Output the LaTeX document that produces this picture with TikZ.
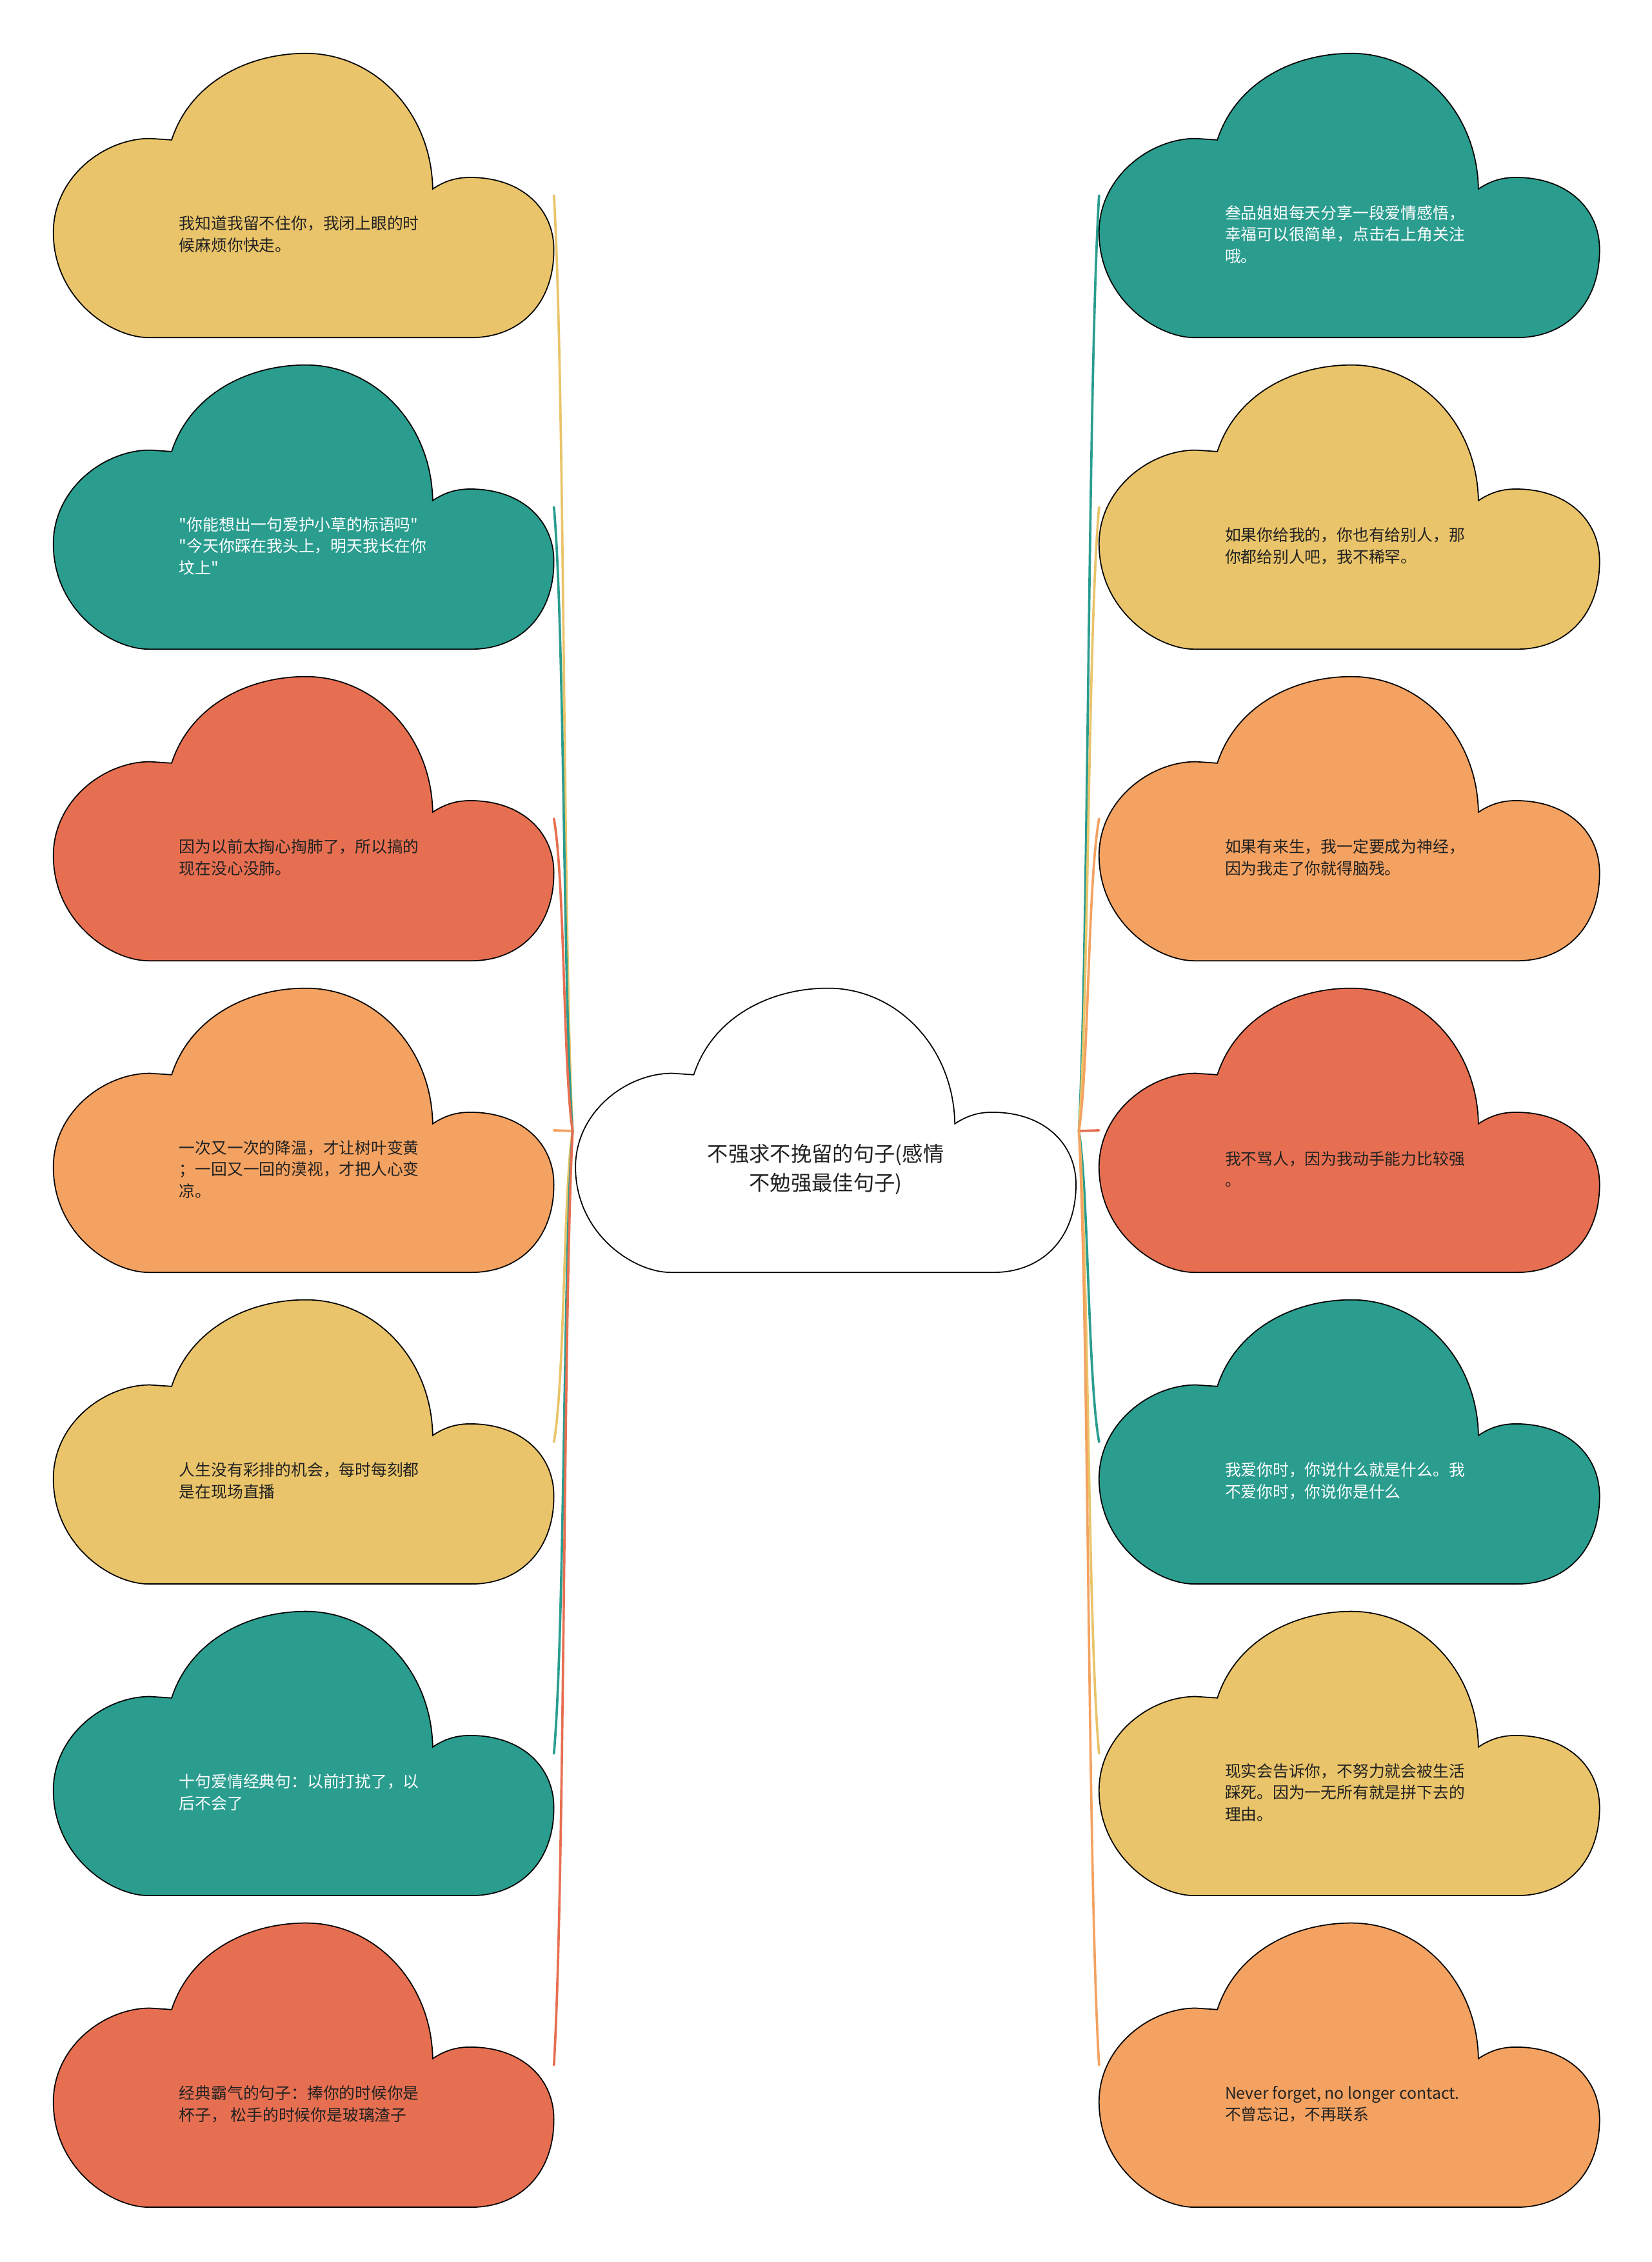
\documentclass[tikz,border=0pt]{standalone}
\usepackage{fontspec}
\newfontfamily\cjkfont{Noto Sans CJK SC}
\usetikzlibrary{calc}
\definecolor{cyel}{HTML}{E9C46A}
\definecolor{cteal}{HTML}{2A9D8F}
\definecolor{cred}{HTML}{E76F51}
\definecolor{corange}{HTML}{F4A261}
\definecolor{cdark}{HTML}{222222}
\tikzset{
  cloudpic/.pic={
    \path[pic actions] (82,60) .. controls (95,20) and (135,0) .. (175,0)
      .. controls (222,0) and (262,40) .. (263,94)
      .. controls (272,88) and (280,86) .. (289,86)
      .. controls (325,86) and (347,108) .. (347,136)
      .. controls (347,175) and (322,197) .. (290,197)
      -- (66,197)
      .. controls (40,197) and (0,170) .. (0,124)
      .. controls (0,86) and (35,59) .. (67,59)
      -- cycle;
  },
  cbox/.style={minimum width=7.758cm, minimum height=4.4045cm, inner sep=0pt, outer sep=0pt, draw=none, anchor=north west},
  cloudline/.style={draw=black, line width=0.5pt},
  ctext/.style={anchor=west, align=left, inner sep=0pt, font=\cjkfont\fontsize{7.05pt}{9.55pt}\selectfont, text=cdark},
  wtext/.style={ctext, text=white},
  conn/.style={line width=1.05pt, line cap=round},
}
\newcommand\lconn[2]{\draw[conn,#2] (#1.east) .. controls ($(#1.east)!0.2!(rL)+(5,0)$) and ($(#1.east)!0.8!(rL)+(-4,0)$) .. (rL);}
\newcommand\rconn[2]{\draw[conn,#2] (#1.west) .. controls ($(#1.west)!0.2!(rR)+(-5,0)$) and ($(#1.west)!0.8!(rR)+(4,0)$) .. (rR);}
\begin{document}
\begin{tikzpicture}[x=0.022358cm,y=-0.022358cm]
\useasboundingbox (0,0) rectangle (1145,1568);
\fill[white] (0,0) rectangle (1145,1568);

% center
\node[cbox] (c) at (399,685) {};
\pic[fill=white, cloudline] at (c.north west) {cloudpic};
\node[align=center, inner sep=0pt, font=\cjkfont\fontsize{9.2pt}{12.7pt}\selectfont, text=cdark] (ct) at ($(c.north west)+(173.5,125.5)$) {不强求不挽留的句子(感情\\不勉强最佳句子)};
\coordinate (rL) at (397,784);
\coordinate (rR) at (748,784);

% left clouds
\node[cbox] (l1) at (37,37) {};
\node[cbox] (l2) at (37,253) {};
\node[cbox] (l3) at (37,469) {};
\node[cbox] (l4) at (37,685) {};
\node[cbox] (l5) at (37,901) {};
\node[cbox] (l6) at (37,1117) {};
\node[cbox] (l7) at (37,1333) {};
\pic[fill=cyel, cloudline] at (l1.north west) {cloudpic};
\pic[fill=cteal, cloudline] at (l2.north west) {cloudpic};
\pic[fill=cred, cloudline] at (l3.north west) {cloudpic};
\pic[fill=corange, cloudline] at (l4.north west) {cloudpic};
\pic[fill=cyel, cloudline] at (l5.north west) {cloudpic};
\pic[fill=cteal, cloudline] at (l6.north west) {cloudpic};
\pic[fill=cred, cloudline] at (l7.north west) {cloudpic};
\node[ctext] (l1t) at ($(l1.north west)+(87,125.5)$) {我知道我留不住你，我闭上眼的时\\候麻烦你快走。};
\node[wtext] (l2t) at ($(l2.north west)+(87,125.5)$) {"你能想出一句爱护小草的标语吗"\\"今天你踩在我头上，明天我长在你\\坟上"};
\node[ctext] (l3t) at ($(l3.north west)+(87,125.5)$) {因为以前太掏心掏肺了，所以搞的\\现在没心没肺。};
\node[ctext] (l4t) at ($(l4.north west)+(87,125.5)$) {一次又一次的降温，才让树叶变黄\\；一回又一回的漠视，才把人心变\\凉。};
\node[ctext] (l5t) at ($(l5.north west)+(87,125.5)$) {人生没有彩排的机会，每时每刻都\\是在现场直播};
\node[wtext] (l6t) at ($(l6.north west)+(87,125.5)$) {十句爱情经典句：以前打扰了，以\\后不会了};
\node[ctext] (l7t) at ($(l7.north west)+(87,125.5)$) {经典霸气的句子：捧你的时候你是\\杯子， 松手的时候你是玻璃渣子};

% right clouds
\node[cbox] (r1) at (762,37) {};
\node[cbox] (r2) at (762,253) {};
\node[cbox] (r3) at (762,469) {};
\node[cbox] (r4) at (762,685) {};
\node[cbox] (r5) at (762,901) {};
\node[cbox] (r6) at (762,1117) {};
\node[cbox] (r7) at (762,1333) {};
\pic[fill=cteal, cloudline] at (r1.north west) {cloudpic};
\pic[fill=cyel, cloudline] at (r2.north west) {cloudpic};
\pic[fill=corange, cloudline] at (r3.north west) {cloudpic};
\pic[fill=cred, cloudline] at (r4.north west) {cloudpic};
\pic[fill=cteal, cloudline] at (r5.north west) {cloudpic};
\pic[fill=cyel, cloudline] at (r6.north west) {cloudpic};
\pic[fill=corange, cloudline] at (r7.north west) {cloudpic};
\node[wtext] (r1t) at ($(r1.north west)+(87,125.5)$) {叁品姐姐每天分享一段爱情感悟，\\幸福可以很简单，点击右上角关注\\哦。};
\node[ctext] (r2t) at ($(r2.north west)+(87,125.5)$) {如果你给我的，你也有给别人，那\\你都给别人吧，我不稀罕。};
\node[ctext] (r3t) at ($(r3.north west)+(87,125.5)$) {如果有来生，我一定要成为神经，\\因为我走了你就得脑残。};
\node[ctext] (r4t) at ($(r4.north west)+(87,125.5)$) {我不骂人，因为我动手能力比较强\\。};
\node[wtext] (r5t) at ($(r5.north west)+(87,125.5)$) {我爱你时，你说什么就是什么。我\\不爱你时，你说你是什么};
\node[ctext] (r6t) at ($(r6.north west)+(87,125.5)$) {现实会告诉你，不努力就会被生活\\踩死。因为一无所有就是拼下去的\\理由。};
\node[ctext] (r7t) at ($(r7.north west)+(87,125.5)$) {Never forget, no longer contact.\\不曾忘记，不再联系};

% connectors
\lconn{l1}{cyel}
\lconn{l2}{cteal}
\lconn{l3}{cred}
\draw[conn,corange] (l4.east) -- (rL);
\lconn{l5}{cyel}
\lconn{l6}{cteal}
\lconn{l7}{cred}
\rconn{r1}{cteal}
\rconn{r2}{cyel}
\rconn{r3}{corange}
\draw[conn,cred] (r4.west) -- (rR);
\rconn{r5}{cteal}
\rconn{r6}{cyel}
\rconn{r7}{corange}
\end{tikzpicture}
\end{document}
